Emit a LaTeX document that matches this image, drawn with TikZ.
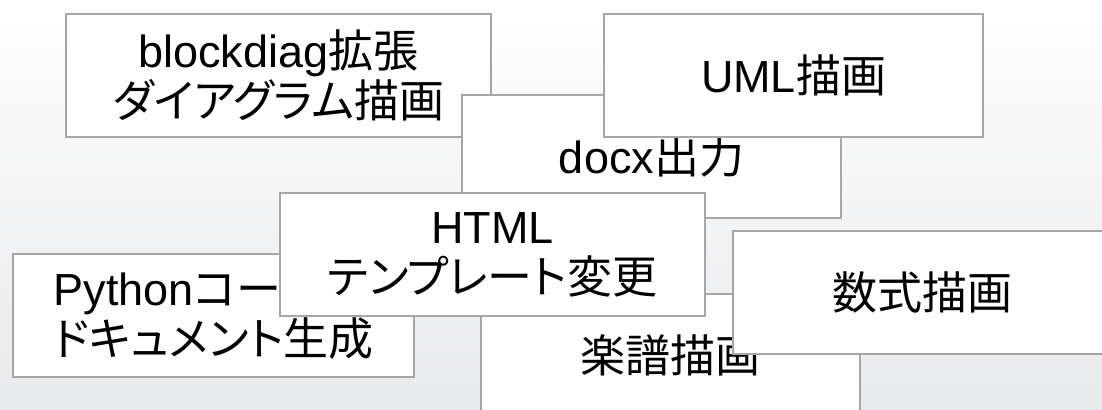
\documentclass[tikz,border=0pt]{standalone}
\usepackage{fontspec}
\setmainfont{Liberation Sans}
\newfontfamily\jp[RawFeature=+palt]{Noto Sans CJK JP}
\definecolor{boxline}{HTML}{A6A6A6}
\definecolor{bgbottom}{HTML}{E8E9EB}

\begin{document}
\begin{tikzpicture}[x=0.5pt,y=-0.5pt,
  feature/.style={draw=boxline,line width=1pt,fill=white,anchor=north west,
    inner sep=0pt,align=center,minimum height=61.5pt,
    font=\fontsize{22.5pt}{25pt}\selectfont},
  narrow/.style={feature,minimum width=189.5pt},
  wide/.style={feature,minimum width=212.5pt}]
\clip (0,0) rectangle (1102,410);
\shade[top color=white,bottom color=bgbottom] (0,0) rectangle (1102,410);
\node[wide] at (65,13) (blockdiag) {blockdiag{\jp 拡張}\\{\jp ダイアグラム描画}};
\node[narrow] at (461,94) (docx) {docx{\jp 出力}};
\node[narrow] at (603,13) (uml) {UML{\jp 描画}};
\node[feature,minimum width=200.5pt,align=left] at (12,253) (python) {Python{\jp コード}\\{\jp ドキュメント生成}};
\node[narrow,font=\fontsize{22.5pt}{25pt}\selectfont\jp] at (480,293) (score) {楽譜描画};
\node[wide] at (279,192) (html) {HTML\\{\jp テンプレート変更}};
\node[narrow,font=\fontsize{22.5pt}{25pt}\selectfont\jp] at (732,230) (math) {数式描画};
\end{tikzpicture}
\end{document}
